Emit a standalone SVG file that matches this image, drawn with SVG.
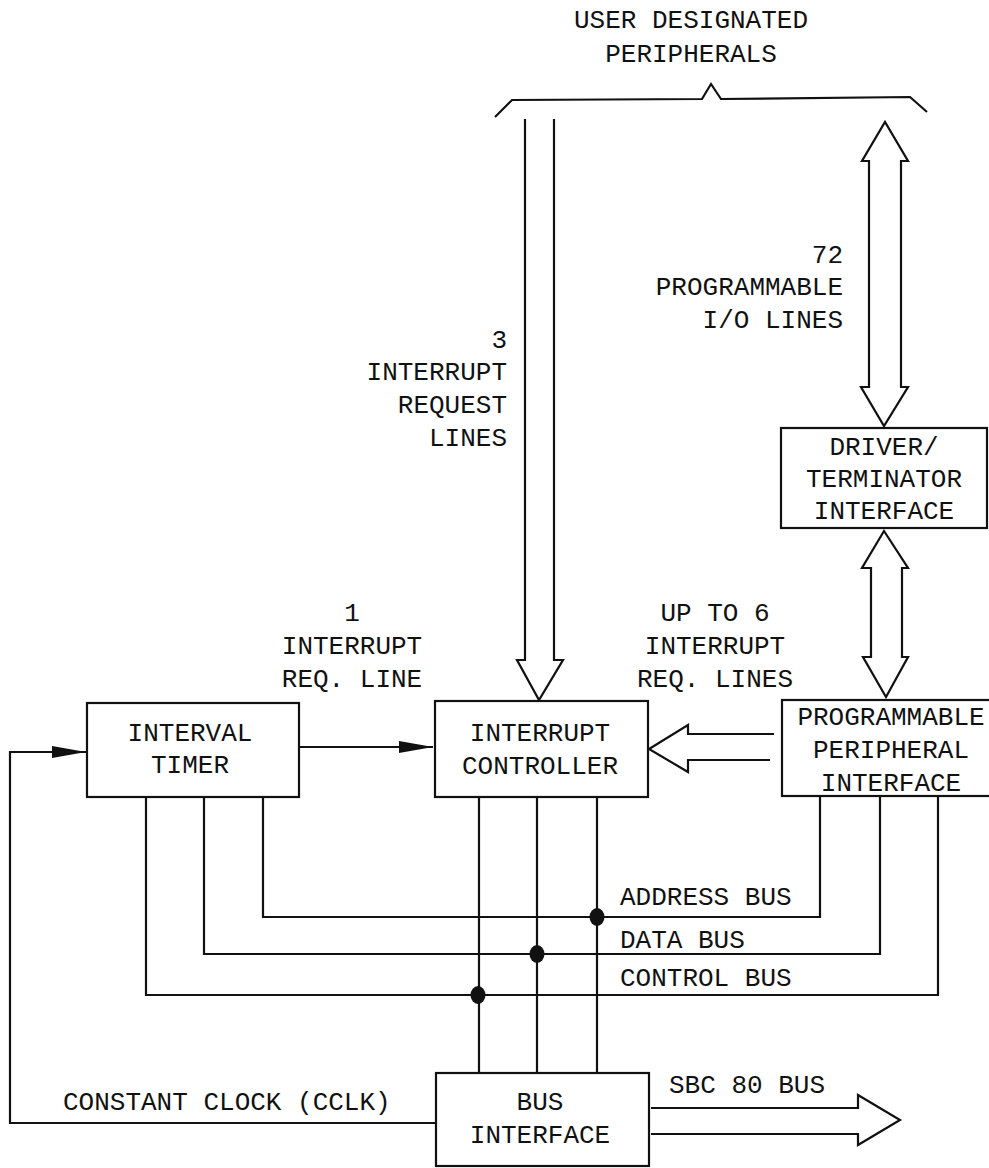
<svg xmlns="http://www.w3.org/2000/svg" width="989" height="1168" viewBox="0 0 989 1168">
<style>
  text { font-family: "Liberation Mono", "DejaVu Sans Mono", monospace; font-size: 26px; fill: #111; }
  .c { text-anchor: middle; }
  .e { text-anchor: end; }
  .box { fill: none; stroke: #111; stroke-width: 2.2; }
  .ln { fill: none; stroke: #111; stroke-width: 2.2; stroke-linejoin: miter; }
  .dot { fill: #111; }
</style>
<defs>
  <marker id="ah" viewBox="0 0 34 12" refX="34" refY="6" markerWidth="34" markerHeight="12" markerUnits="userSpaceOnUse" orient="auto">
    <path d="M0,0 L34,6 L0,12 Z" fill="#111"/>
  </marker>
</defs>
<rect width="989" height="1168" fill="#fff"/>

<g id="title">
  <text class="c" x="691" y="28">USER DESIGNATED</text>
  <text class="c" x="691" y="62">PERIPHERALS</text>
  <path class="ln" stroke-width="2.6" d="M495,117 L512,100 L702,99 L711,84 L721,99 L910,97 L927,112"/>
</g>

<g id="connectors">
  <!-- 3 interrupt request lines (down arrow) -->
  <path class="ln" d="M525,119 L525,660 L517,660 L539,700 L563,660 L554,660 L554,119"/>
  <!-- 72 programmable I/O lines (double arrow) -->
  <path class="ln" d="M869,161 L862,161 L885,122 L908,161 L901,161 L901,387 L908,387 L884,426 L861,387 L869,387 Z"/>
  <!-- driver to PPI double arrow -->
  <path class="ln" d="M871,568 L862,568 L884,531 L908,568 L902,568 L902,657 L908,657 L886,697 L863,657 L871,657 Z"/>
  <!-- PPI to controller hollow arrow -->
  <path class="ln" d="M774,734 L688,734 L688,725 L649,749 L688,772 L688,760 L770,760"/>
  <!-- SBC 80 bus hollow arrow -->
  <path class="ln" d="M651,1108 L858,1108 L858,1095 L900,1120 L858,1145 L858,1134 L651,1134"/>
  <!-- timer to controller -->
  <path class="ln" d="M299,747 L433,747" marker-end="url(#ah)"/>
  <!-- constant clock -->
  <path class="ln" d="M436,1123 L10,1123 L10,752 L86,752" marker-end="url(#ah)"/>
  <!-- timer bus taps -->
  <path class="ln" d="M263,797 L263,917 L820,917 L820,796"/>
  <path class="ln" d="M204,797 L204,954 L880,954 L880,796"/>
  <path class="ln" d="M146,797 L146,995 L938,995 L938,796"/>
  <!-- controller to bus interface -->
  <path class="ln" d="M479,797 L479,1073"/>
  <path class="ln" d="M537,797 L537,1073"/>
  <path class="ln" d="M597,797 L597,1073"/>
  <ellipse class="dot" cx="597" cy="917" rx="7.5" ry="9"/>
  <ellipse class="dot" cx="537" cy="954" rx="7.5" ry="9"/>
  <ellipse class="dot" cx="478" cy="995" rx="7.5" ry="9"/>
</g>

<g id="labels">
  <text class="e" x="843" y="263">72</text>
  <text class="e" x="843" y="295">PROGRAMMABLE</text>
  <text class="e" x="843" y="328">I/O LINES</text>
  <text class="e" x="507" y="348">3</text>
  <text class="e" x="507" y="380">INTERRUPT</text>
  <text class="e" x="507" y="413">REQUEST</text>
  <text class="e" x="507" y="446">LINES</text>
  <text class="c" x="352" y="621">1</text>
  <text class="c" x="352" y="654">INTERRUPT</text>
  <text class="c" x="352" y="687">REQ. LINE</text>
  <text class="c" x="715" y="621">UP TO 6</text>
  <text class="c" x="715" y="654">INTERRUPT</text>
  <text class="c" x="715" y="687">REQ. LINES</text>
  <text x="620" y="905">ADDRESS BUS</text>
  <text x="620" y="948">DATA BUS</text>
  <text x="620" y="986">CONTROL BUS</text>
  <text x="63" y="1110">CONSTANT CLOCK (CCLK)</text>
  <text x="669" y="1093">SBC 80 BUS</text>
</g>

<g id="driver">
  <rect class="box" x="781" y="428" width="206" height="100"/>
  <text class="c" x="884" y="455">DRIVER/</text>
  <text class="c" x="884" y="487">TERMINATOR</text>
  <text class="c" x="884" y="519">INTERFACE</text>
</g>

<g id="timer">
  <rect class="box" x="87" y="703" width="212" height="94"/>
  <text class="c" x="190" y="741">INTERVAL</text>
  <text class="c" x="190" y="773">TIMER</text>
</g>

<g id="controller">
  <rect class="box" x="435" y="701" width="213" height="96"/>
  <text class="c" x="540" y="741">INTERRUPT</text>
  <text class="c" x="540" y="774">CONTROLLER</text>
</g>

<g id="ppi">
  <rect class="box" x="782" y="700" width="220" height="96"/>
  <text class="c" x="891" y="725">PROGRAMMABLE</text>
  <text class="c" x="891" y="758">PERIPHERAL</text>
  <text class="c" x="891" y="791">INTERFACE</text>
</g>

<g id="bus_interface">
  <rect class="box" x="436" y="1073" width="213" height="93"/>
  <text class="c" x="540" y="1110">BUS</text>
  <text class="c" x="540" y="1143">INTERFACE</text>
</g>
</svg>
